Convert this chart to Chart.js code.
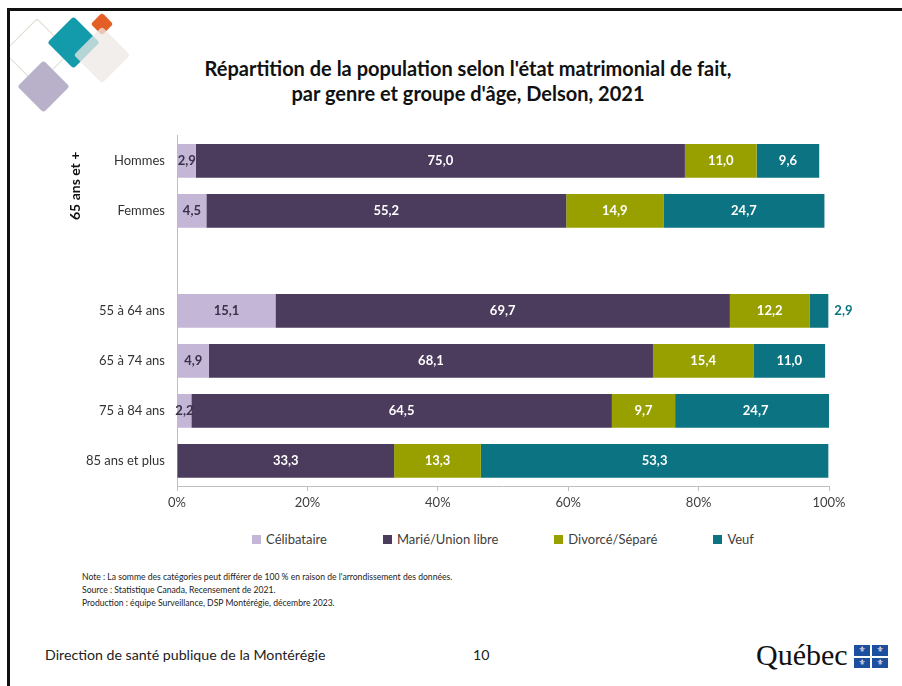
<!DOCTYPE html>
<html lang="fr">
<head>
<meta charset="utf-8">
<script src="https://cdn.jsdelivr.net/npm/chart.js@4"></script>
<style>
    html, body { margin: 0; padding: 0; background: #fff; }
    body { width: 902px; height: 686px; position: relative; overflow: hidden; font-family: Lato, "Open Sans", sans-serif; }
    .frame { position: absolute; left: 7px; top: 8px; width: 1000px; height: 1000px; border-top: 3px solid #111; border-left: 3px solid #111; z-index: 5; }
    .mask { position: absolute; left: 0; top: 0; width: 7px; height: 686px; background: #fff; z-index: 4; }
    .mask2 { position: absolute; left: 0; top: 0; width: 902px; height: 8px; background: #fff; z-index: 4; }
    .dia { position: absolute; transform: rotate(45deg); border-radius: 3px; }
    .title { position: absolute; left: 118px; width: 700px; top: 56px; text-align: center; font-size: 20px; font-weight: bold; line-height: 25px; color: #111; }
    #chartBox { position: absolute; left: 36px; top: 124px; width: 864px; height: 386px; }
    #legend { position: absolute; left: 177px; width: 652px; top: 531px; height: 16px; display: flex; justify-content: center; gap: 56px; font-size: 13px; color: #404040; }
    #legend span.item { display: flex; align-items: center; }
    #legend span.box { width: 9px; height: 9px; margin-right: 5px; display: inline-block; }
    .notes { position: absolute; left: 82px; top: 571px; font-size: 8.6px; line-height: 13px; color: #222; }
    .footer { position: absolute; top: 646px; font-size: 14.2px; color: #222; }
    .quebec { position: absolute; left: 756px; top: 638px; font-family: "Liberation Serif", "DejaVu Serif", serif; font-size: 30px; color: #111; }
    .flag { position: absolute; left: 854px; top: 645px; width: 34px; height: 23px; background: #1d4f9f; }
    .flag .h { position: absolute; left: 0; top: 10.5px; width: 34px; height: 2px; background: #fff; }
    .flag .v { position: absolute; left: 16px; top: 0; width: 2px; height: 23px; background: #fff; }
    .flag .f { position: absolute; color: #fff; font-size: 8px; line-height: 10px; width: 16px; text-align: center; font-family: "DejaVu Sans"; }
</style>
</head>
<body>
<div class="mask"></div>
<div class="mask2"></div>
<div class="frame"></div>

<!-- decorative diamonds top-left -->
<div class="dia" style="left:13px;top:28px;width:46px;height:46px;border:1.5px solid #d8dece;"></div>
<div class="dia" style="left:55px;top:24px;width:37px;height:37px;background:#139aab;"></div>
<div class="dia" style="left:94px;top:16px;width:16px;height:16px;background:#e35f26;"></div>
<div class="dia" style="left:82px;top:35px;width:40px;height:40px;background:rgba(236,232,230,0.75);"></div>
<div class="dia" style="left:25px;top:68px;width:37px;height:37px;background:#b9b1ca;"></div>

<div class="title">Répartition de la population selon l'état matrimonial de fait,<br>par genre et groupe d'âge, Delson, 2021</div>

<div id="chartBox"><canvas id="maritalChart"></canvas></div>
<div id="legend"></div>

<div class="notes">
    Note : La somme des catégories peut différer de 100 % en raison de l'arrondissement des données.<br>
    Source : Statistique Canada, Recensement de 2021.<br>
    Production : équipe Surveillance, DSP Montérégie, décembre 2023.
</div>
<div class="footer" style="left:45px;">Direction de santé publique de la Montérégie</div>
<div class="footer" style="left:473px;">10</div>
<div class="quebec">Québec</div>
<div class="flag">
    <div class="h"></div><div class="v"></div>
    <div class="f" style="left:0;top:0;">⚜</div>
    <div class="f" style="left:18px;top:0;">⚜</div>
    <div class="f" style="left:0;top:12.5px;">⚜</div>
    <div class="f" style="left:18px;top:12.5px;">⚜</div>
</div>

<script>
const categories = ["Hommes", "Femmes", "", "55 à 64 ans", "65 à 74 ans", "75 à 84 ans", "85 ans et plus"];
const groupLabel = "65 ans et +";

const seriesNames = ["Célibataire", "Marié/Union libre", "Divorcé/Séparé", "Veuf"];
const seriesColors = ["#c4b6d6", "#4b3b5d", "#98a000", "#0b7381"];
const labelColors = ["#3a3048", "#ffffff", "#ffffff", "#ffffff"];

const celibataire = [2.9, 4.5, null, 15.1, 4.9, 2.2, null];
const marie = [75.0, 55.2, null, 69.7, 68.1, 64.5, 33.3];
const divorce = [11.0, 14.9, null, 12.2, 15.4, 9.7, 13.3];
const veuf = [9.6, 24.7, null, 2.9, 11.0, 24.7, 53.3];

const xMax = 100;
const xStep = 20;

Chart.defaults.font.family = "Lato, 'Open Sans', sans-serif";
Chart.defaults.color = "#404040";

function fmt(v) {
    return v.toFixed(1).replace(".", ",");
}

// value labels inside the bars, and the rotated group label
const barLabels = {
    id: "barLabels",
    afterDatasetsDraw(chart) {
        const ctx = chart.ctx;
        ctx.save();
        ctx.font = "bold 13px Lato, 'Open Sans', sans-serif";
        ctx.textBaseline = "middle";
        chart.data.datasets.forEach((ds, i) => {
            const meta = chart.getDatasetMeta(i);
            meta.data.forEach((bar, j) => {
                const v = ds.data[j];
                if (v == null) return;
                const small = i === 3 && v < 5;
                if (small) {
                    ctx.fillStyle = seriesColors[3];
                    ctx.textAlign = "left";
                    ctx.fillText(fmt(v), bar.x + 6, bar.y);
                } else {
                    ctx.fillStyle = labelColors[i];
                    ctx.textAlign = "center";
                    ctx.fillText(fmt(v), (bar.x + bar.base) / 2, bar.y);
                }
            });
        });
        const y = chart.scales.y.getPixelForValue(0.5);
        ctx.translate(39, y);
        ctx.rotate(-Math.PI / 2);
        ctx.textAlign = "center";
        ctx.fillStyle = "#111";
        ctx.font = "bold 14px Lato, 'Open Sans', sans-serif";
        ctx.fillText(groupLabel, 0, 0);
        ctx.restore();
    }
};

const seriesData = [celibataire, marie, divorce, veuf];

const ctx = document.getElementById("maritalChart").getContext("2d");

const maritalChart = new Chart(ctx, {
    type: "bar",
    data: {
        labels: categories,
        datasets: seriesNames.map((name, i) => ({
            label: name,
            data: seriesData[i],
            backgroundColor: seriesColors[i],
            borderWidth: 0,
            barPercentage: 0.9,
            categoryPercentage: 0.75
        }))
    },
    options: {
        indexAxis: "y",
        responsive: true,
        maintainAspectRatio: false,
        animation: false,
        layout: {
            padding: { left: 0, right: 71, top: 10, bottom: 0 }
        },
        plugins: {
            legend: { display: false },
            tooltip: { enabled: false }
        },
        scales: {
            x: {
                stacked: true,
                min: 0,
                max: xMax,
                grid: { display: true, drawOnChartArea: false, tickLength: 5, color: "#bfbfbf" },
                border: { display: true, color: "#bfbfbf" },
                ticks: {
                    stepSize: xStep,
                    padding: 4,
                    color: "#404040",
                    font: { size: 13 },
                    callback(value) {
                        return value + "%";
                    }
                },
                afterFit(scale) {
                    scale.height = 24;
                }
            },
            y: {
                stacked: true,
                grid: { display: false },
                border: { display: true, color: "#bfbfbf" },
                ticks: {
                    padding: 4,
                    color: "#333",
                    font: { size: 13 }
                },
                afterFit(scale) {
                    scale.width = 141;
                }
            }
        }
    },
    plugins: [barLabels]
});

// legend built from the same series arrays
const legendEl = document.getElementById("legend");
seriesNames.forEach((name, i) => {
    const item = document.createElement("span");
    item.className = "item";
    item.innerHTML = '<span class="box" style="background:' + seriesColors[i] + '"></span>' + name;
    legendEl.appendChild(item);
});
</script>
</body>
</html>
